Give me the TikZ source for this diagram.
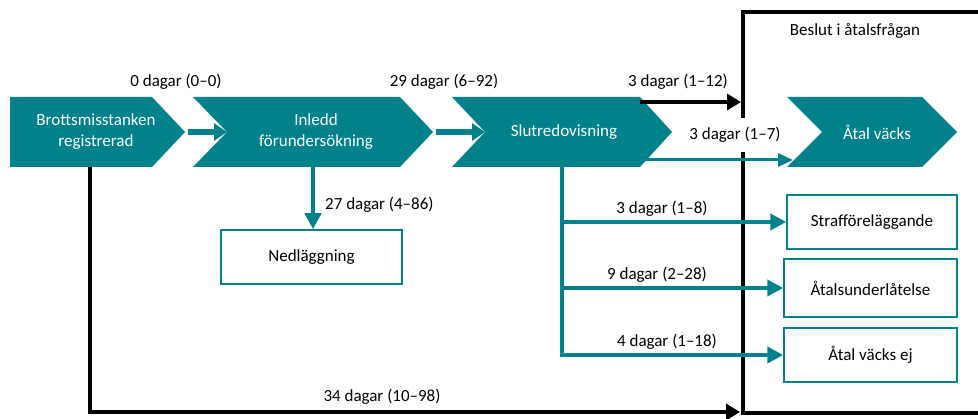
\documentclass[tikz,border=0pt]{standalone}
\usepackage{fontspec}
\setmainfont{Carlito}
\usetikzlibrary{arrows.meta}
\definecolor{teal1}{RGB}{0,129,140}
\begin{document}
\begin{tikzpicture}[x=1pt,y=-1pt,
  font=\fontsize{17}{21}\selectfont,
  chev/.style={fill=teal1, draw=none},
  wtxt/.style={text=white, align=center, inner sep=0pt},
  lbl/.style={inner sep=0pt, text=black},
  box/.style={draw=teal1, line width=1.5pt, fill=white, inner sep=0pt},
  tline/.style={draw=teal1, line width=4.5pt, line join=miter},
  tarr/.style={tline, -{Triangle[length=16pt,width=16pt]}},
  tarrthin/.style={draw=teal1, line width=3pt, -{Triangle[length=15pt,width=13pt]}},
  tbig/.style={draw=teal1, line width=6pt, -{Triangle[length=13pt,width=17pt]}},
  barr/.style={draw=black, line width=4pt, line join=miter, -{Triangle[length=14pt,width=16pt]}},
  frame/.style={draw=black, line width=4.5pt, line join=miter}]
\useasboundingbox (0,0) rectangle (978,419);

% frame of decision area
\draw[frame] (990,12) -- (743,12) -- (743,413) -- (990,413);

% chevrons
\fill[chev] (10,97) -- (152,97) -- (185,132) -- (152,167) -- (10,167) -- cycle;
\fill[chev] (193,97) -- (400,97) -- (433,132) -- (400,167) -- (193,167) -- (227,132) -- cycle;
\fill[chev] (452,97) -- (640,97) -- (672,132) -- (640,167) -- (452,167) -- (485,132) -- cycle;
\fill[chev] (787,97) -- (922,97) -- (957,132) -- (922,167) -- (787,167) -- (822,132) -- cycle;

\node[wtxt] (brott) at (96,132) {Brottsmisstanken\\registrerad};
\node[wtxt] (inledd) at (316,132) {Inledd\\förundersökning};
\node[wtxt] (slut) at (564,132) {Slutredovisning};
\node[wtxt] (vacks) at (877,132) {Åtal väcks};

% anchor points on chevron outlines
\coordinate (c1tip) at (188,132);
\coordinate (c2notch) at (227,132);
\coordinate (c2tip) at (436,132);
\coordinate (c3notch) at (485,132);
\coordinate (c1bot) at (90,167);
\coordinate (c2bot) at (313,167);
\coordinate (c3bot) at (562,167);
\coordinate (c3top) at (640,102);
\coordinate (c3low) at (640,160);
\coordinate (frametop) at (741,102);
\coordinate (framebot) at (740,412);
\coordinate (c4notch) at (793,160);

% boxes
\node[box, minimum width=181, minimum height=54] (ned) at (311.5,257) {Nedläggning};
\node[box, minimum width=170, minimum height=54] (straff) at (872,222) {Strafföreläggande};
\node[box, minimum width=173, minimum height=58] (under) at (870.5,288) {Åtalsunderlåtelse};
\node[box, minimum width=173, minimum height=54] (ej) at (870.5,355) {Åtal väcks ej};

% connectors between chevrons
\draw[tbig] (c1tip) -- (c2notch);
\draw[tbig] (c2tip) -- (c3notch);

% to Nedläggning
\draw[tarr] (c2bot) -- (ned.north -| c2bot);

% branches from Slutredovisning
\draw[tline] (c3bot) -- (c3bot |- straff.west);
\draw[tarr] (c3bot |- straff.west) -- (straff.west);
\draw[tarr] (c3bot |- under.west) -- (under.west);
\draw[tarr] (c3bot) |- (ej.west);

% black arrows
\draw[barr] (c3top) -- (frametop);
\draw[barr] (c1bot) |- (framebot);

% label over frame (white background)
\node[lbl, fill=white, inner xsep=4pt, inner ysep=9pt] (l17) at (735,135) {3 dagar (1–7)};
\draw[tarrthin] (c3low) -- (c4notch);

% labels
\node[lbl] (l00) at (176,82) {0 dagar (0–0)};
\node[lbl] (l2992) at (444,82) {29 dagar (6–92)};
\node[lbl] (l312) at (678,82) {3 dagar (1–12)};
\node[lbl, anchor=west] (l2786) at (325,205) {27 dagar (4–86)};
\node[lbl] (l3498) at (382,397) {34 dagar (10–98)};
\node[lbl] (l318) at (662,209) {3 dagar (1–8)};
\node[lbl] (l928) at (657,275) {9 dagar (2–28)};
\node[lbl] (l418) at (667,342) {4 dagar (1–18)};
\node[lbl] (beslut) at (855,31) {Beslut i åtalsfrågan};
\end{tikzpicture}
\end{document}
